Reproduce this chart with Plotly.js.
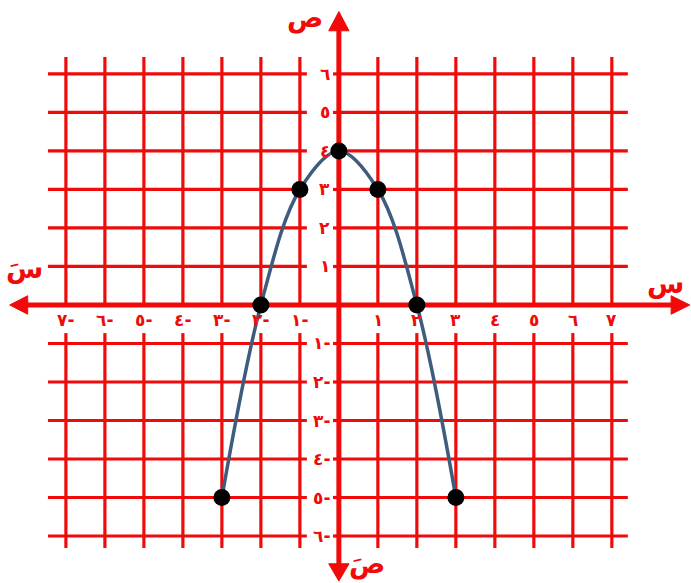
<!DOCTYPE html>
<html>
<head>
<meta charset="utf-8">
<script src="https://cdn.plot.ly/plotly-3.0.1.min.js"></script>
<style>
  html, body { margin: 0; padding: 0; background: #ffffff; }
  #chart { width: 691px; height: 583px; }
</style>
</head>
<body>
<div id="chart"></div>
<script>
// Grid positions and tick labels (Arabic-Indic digits)
const gridX = [-7, -6, -5, -4, -3, -2, -1, 1, 2, 3, 4, 5, 6, 7];
const gridY = [6, 5, 4, 3, 2, 1, -1, -2, -3, -4, -5, -6];
const xTickText = ['٧-', '٦-', '٥-', '٤-', '٣-', '٢-', '١-', '١', '٢', '٣', '٤', '٥', '٦', '٧'];
const yTickText = ['٦', '٥', '٤', '٣', '٢', '١', '١-', '٢-', '٣-', '٤-', '٥-', '٦-'];

// Table of values for y = 4 - x²
const pointX = [-3, -2, -1, 0, 1, 2, 3];
const pointY = [-5, 0, 3, 4, 3, 0, -5];

const RED = '#f00a0a';
const GRID_W = 3.2;
const AXIS_W = 5;

// extents of the drawn grid (in axis units)
const gx0 = -7.46, gx1 = 7.41;
const gy0 = -6.31, gy1 = 6.44;
const xLabelGap = -0.73;   // band under the x axis kept clear for labels
const yLabelGap = -0.82;   // band left of the y axis kept clear for labels

const seg = (x0, y0, x1, y1, w) => ({
  type: 'line', xref: 'x', yref: 'y', layer: 'below',
  x0, y0, x1, y1, line: { color: RED, width: w }
});

const shapes = [];
gridX.forEach(v => {
  shapes.push(seg(v, 0, v, gy1, GRID_W));
  shapes.push(seg(v, xLabelGap, v, gy0, GRID_W));
});
gridY.forEach(v => {
  shapes.push(seg(gx0, v, yLabelGap, v, GRID_W));
  shapes.push(seg(0, v, gx1, v, GRID_W));
  shapes.push(seg(-0.15, v, 0, v, GRID_W));
});

// axes with arrowheads
shapes.push(seg(-8.1, 0, 8.6, 0, AXIS_W));
shapes.push(seg(0, -6.85, 0, 7.25, AXIS_W));
const tri = (path) => ({
  type: 'path', xref: 'x', yref: 'y', layer: 'below',
  path, fillcolor: RED, line: { color: RED, width: 1 }
});
shapes.push(tri('M -8.44 0 L -7.98 0.24 L -7.98 -0.24 Z'));
shapes.push(tri('M 9.0 0 L 8.52 0.24 L 8.52 -0.24 Z'));
shapes.push(tri('M 0 7.62 L -0.26 7.12 L 0.26 7.12 Z'));
shapes.push(tri('M 0 -7.17 L -0.26 -6.72 L 0.26 -6.72 Z'));

const labelFont = { family: 'DejaVu Sans, sans-serif', size: 17, color: RED, weight: 'bold' };
const annotations = [];
gridX.forEach((v, i) => annotations.push({
  x: v, y: -0.4, xref: 'x', yref: 'y', text: xTickText[i],
  showarrow: false, xanchor: 'center', yanchor: 'middle', font: labelFont
}));
gridY.forEach((v, i) => annotations.push({
  x: -0.18, y: v, xref: 'x', yref: 'y', text: yTickText[i],
  showarrow: false, xanchor: 'right', yanchor: 'middle', font: labelFont
}));

// axis names
const nameFont = { family: 'DejaVu Sans, sans-serif', size: 27, color: RED, weight: 'bold' };
[
  { x: -0.87, y: 7.45, text: 'ص' },
  { x: -8.05, y: 0.95, text: 'سَ' },
  { x: 8.38, y: 0.55, text: 'س' },
  { x: 0.72, y: -6.72, text: 'صَ' }
].forEach(a => annotations.push(Object.assign({
  xref: 'x', yref: 'y', showarrow: false, xanchor: 'center', yanchor: 'middle', font: nameFont
}, a)));

const traces = [
  {
    x: pointX, y: pointY, type: 'scatter', mode: 'lines',
    line: { color: '#3e5d7e', width: 3.5, shape: 'spline', smoothing: 1 },
    hoverinfo: 'skip'
  },
  {
    x: pointX, y: pointY, type: 'scatter', mode: 'markers',
    marker: { color: '#000000', size: 17 }
  }
];

const layout = {
  width: 691, height: 583, autosize: false,
  margin: { l: 0, r: 0, t: 0, b: 0, pad: 0 },
  paper_bgcolor: '#ffffff', plot_bgcolor: '#ffffff',
  showlegend: false,
  xaxis: { range: [-8.69, 9.03], visible: false, fixedrange: true },
  yaxis: { range: [-7.22, 7.92], visible: false, fixedrange: true },
  shapes, annotations
};

Plotly.newPlot('chart', traces, layout, { staticPlot: true });
</script>
</body>
</html>
